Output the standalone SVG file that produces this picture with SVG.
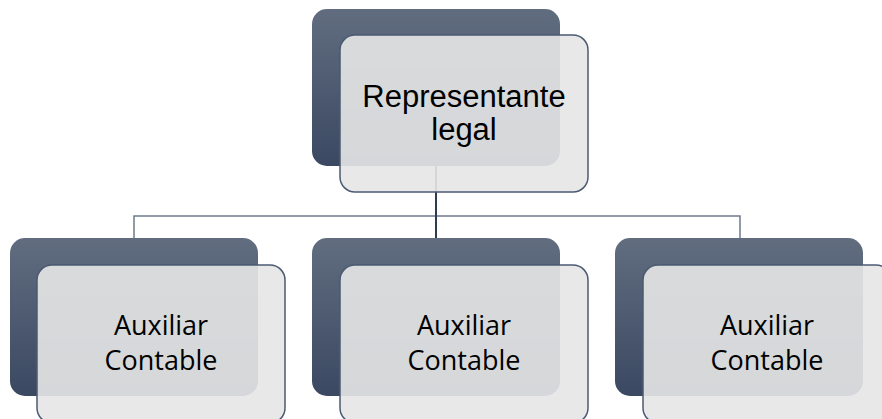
<svg xmlns="http://www.w3.org/2000/svg" width="882" height="419" viewBox="0 0 882 419">
<defs>
<linearGradient id="dg" x1="0" y1="0" x2="0" y2="1">
<stop offset="0" stop-color="#616d7f"/>
<stop offset="1" stop-color="#3a4862"/>
</linearGradient>
<style>
.back{fill:url(#dg);}
.front{fill:#e6e6e6;fill-opacity:0.91;stroke:#4b5a72;stroke-width:1.5;}
.t1{font-family:"Liberation Sans",Arial,sans-serif;font-size:31px;fill:#000;text-anchor:middle;}
.t2{font-family:"Open Sans","Noto Sans",sans-serif;font-size:27px;fill:#000;text-anchor:middle;}
.hl{stroke:#6e7a8a;stroke-width:1.5;fill:none;}
.vl{stroke:#2f3b50;stroke-width:2;fill:none;}
</style>
</defs>
<rect width="882" height="419" fill="#ffffff"/>
<g id="connectors">
<path class="hl" d="M134,238 V216 H740 V238"/>
<path class="vl" d="M436,166 V238"/>
</g>
<g id="n0">
<rect class="back" x="312" y="9" width="248" height="157" rx="15"/>
<rect class="front" x="340" y="35" width="248" height="157" rx="15"/>
<text class="t1" x="464" y="107">Representante</text>
<text class="t1" x="464" y="140">legal</text>
</g>
<g id="n1">
<rect class="back" x="10" y="238" width="248" height="158" rx="15"/>
<rect class="front" x="37" y="265" width="248" height="158" rx="15"/>
<text class="t2" x="161" y="335">Auxiliar</text>
<text class="t2" x="161" y="370">Contable</text>
</g>
<g id="n2">
<rect class="back" x="312" y="238" width="248" height="158" rx="15"/>
<rect class="front" x="340" y="265" width="248" height="158" rx="15"/>
<text class="t2" x="464" y="335">Auxiliar</text>
<text class="t2" x="464" y="370">Contable</text>
</g>
<g id="n3">
<rect class="back" x="615" y="238" width="248" height="158" rx="15"/>
<rect class="front" x="643" y="265" width="248" height="158" rx="15"/>
<text class="t2" x="767" y="335">Auxiliar</text>
<text class="t2" x="767" y="370">Contable</text>
</g>
</svg>
